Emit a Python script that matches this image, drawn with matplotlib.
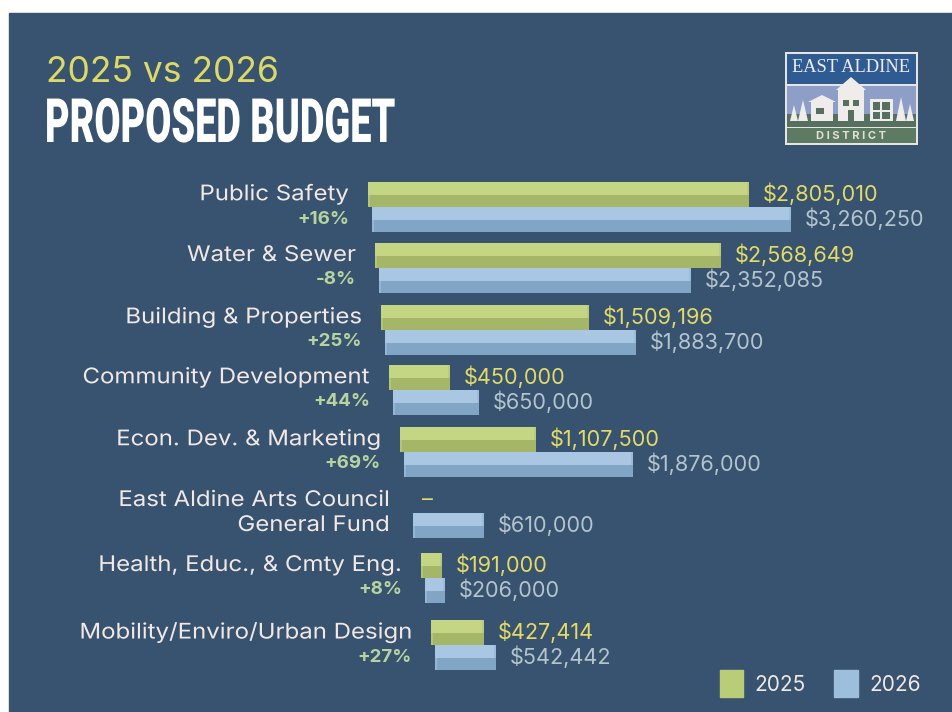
import matplotlib
matplotlib.use("Agg")
import matplotlib.pyplot as plt
from matplotlib.patches import Rectangle, Polygon
from matplotlib.patheffects import AbstractPathEffect
from matplotlib.transforms import Affine2D

plt.rcParams['font.family'] = ['Inter', 'DejaVu Sans']

# datos
categories = ["Public Safety", "Water & Sewer", "Building & Properties", "Community Development",
              "Econ. Dev. & Marketing", "East Aldine Arts Council\nGeneral Fund",
              "Health, Educ., & Cmty Eng.", "Mobility/Enviro/Urban Design"]
pct_change = ["+16%", "-8%", "+25%", "+44%", "+69%", "", "+8%", "+27%"]
labels_2025 = ["$2,805,010", "$2,568,649", "$1,509,196", "$450,000", "$1,107,500", "–", "$191,000", "$427,414"]
labels_2026 = ["$3,260,250", "$2,352,085", "$1,883,700", "$650,000", "$1,876,000", "$610,000", "$206,000", "$542,442"]

# bar lengths, they are not quite to scale with the printed amounts
bars_2025 = [2930000, 2660000, 1600000, 470000, 1046000, 0, 162000, 408000]
bars_2026 = [3223000, 2400000, 1931000, 662000, 1761000, 546000, 154000, 469000]

DOLLARS_PER_PX = 7692
bar_left = [368, 375, 381, 389, 400, 409, 421, 431]
row_top = [182, 243, 305, 365, 427, 488, 553, 620]
BAR_H = 25

GREEN_TOP, GREEN_BOT = "#c4d583", "#a5b668"
BLUE_TOP, BLUE_BOT = "#a9c6e3", "#80a5c5"
BG = "#38536f"
YELLOW = "#e3da68"
GREY = "#b4c4cc"
TEXT = "#f2e8e6"
PCT = "#b7d3a0"
LOGO_WHITE = "#f0ecec"
LOGO_GREEN = "#55705f"


class StretchX(AbstractPathEffect):
    # widens or narrows a text around a pixel x, the font list has no wide/condensed cut
    def __init__(self, factor, anchor_px):
        super().__init__()
        self.factor = factor
        self.anchor_px = anchor_px

    def draw_path(self, renderer, gc, tpath, affine, rgbFace=None):
        extra = Affine2D().translate(-self.anchor_px, 0).scale(self.factor, 1).translate(self.anchor_px, 0)
        renderer.draw_path(gc, tpath, affine + extra, rgbFace)


fig = plt.figure(figsize=(9.52, 7.12), dpi=100, facecolor="white")
ax = fig.add_axes([0, 0, 1, 1])
ax.set_xlim(0, 952)
ax.set_ylim(712, 0)
ax.axis("off")

# the bars get their own axis in dollars, same pixels as ax
bar_ax = fig.add_axes([0, 0, 1, 1], sharey=ax)
bar_ax.set_xlim(0, 952 * DOLLARS_PER_PX)
bar_ax.patch.set_alpha(0)
bar_ax.axis("off")

ax.add_patch(Rectangle((9, 13), 943, 699, color=BG, zorder=0))


def draw_bar(left_px, top, value, c_top, c_bot):
    left = left_px * DOLLARS_PER_PX
    h = BAR_H / 2
    bar_ax.barh(top + h * 1.5, value, height=h, left=left, color=c_bot, zorder=3)
    bar_ax.barh(top + h * 0.5, value, height=h, left=left, color=c_top, zorder=3)
    # bevelled ends
    cap = 2 * DOLLARS_PER_PX
    bar_ax.barh(top + h, cap, height=BAR_H, left=left, color=c_top, alpha=0.5, zorder=4)
    bar_ax.barh(top + h, cap, height=BAR_H, left=left + value - cap, color=c_bot, alpha=0.3, zorder=4)


for i, cat in enumerate(categories):
    top = row_top[i]
    left = bar_left[i]
    if bars_2025[i] > 0:
        draw_bar(left, top, bars_2025[i], GREEN_TOP, GREEN_BOT)
        x_25 = left + bars_2025[i] / DOLLARS_PER_PX + 14
    else:
        x_25 = left + 13
    draw_bar(left + 4, top + BAR_H, bars_2026[i], BLUE_TOP, BLUE_BOT)
    x_26 = left + 4 + bars_2026[i] / DOLLARS_PER_PX + 14

    ax.text(x_25, top + 12, labels_2025[i], color=YELLOW, fontsize=15.6, va="center", ha="left", zorder=5)
    ax.text(x_26, top + 37, labels_2026[i], color=GREY, fontsize=15.6, va="center", ha="left", zorder=5)

    right = left - 19
    wide = [StretchX(1.115, right)]
    if "\n" in cat:
        first, second = cat.split("\n")
        ax.text(right, top + 12, first, color=TEXT, fontsize=15.5, va="center", ha="right", path_effects=wide)
        ax.text(right, top + 37, second, color=TEXT, fontsize=15.5, va="center", ha="right", path_effects=wide)
    else:
        ax.text(right, top + 12, cat, color=TEXT, fontsize=15.5, va="center", ha="right", path_effects=wide)
        ax.text(right, top + 37, pct_change[i], color=PCT, fontsize=13.5, fontweight="bold", va="center", ha="right")

# title
ax.text(46, 73, "2025 vs 2026", color="#dcd968", fontsize=25.5, va="center", ha="left")
ax.text(45, 125, "PROPOSED BUDGET", color="white", fontsize=44, fontweight="black",
        family="Roboto", va="center", ha="left", path_effects=[StretchX(0.62, 45)])

# legend
ax.add_patch(Rectangle((720, 670), 23, 27, color="#b9cd78", zorder=3))
ax.text(754, 685, "2025", color=TEXT, fontsize=15, va="center", ha="left")
ax.add_patch(Rectangle((834, 670), 24, 27, color="#9dbedd", zorder=3))
ax.text(869, 685, "2026", color=TEXT, fontsize=15, va="center", ha="left")

# logo
ax.add_patch(Rectangle((785, 52), 133, 93, facecolor="#e8e4e4", edgecolor="none", zorder=2))
ax.add_patch(Rectangle((787, 54), 129, 30, facecolor="#2f5b93", zorder=3))
ax.add_patch(Rectangle((787, 86), 129, 28, facecolor="#8d9fc6", zorder=3))
ax.add_patch(Rectangle((787, 114), 129, 13, facecolor=LOGO_GREEN, zorder=3))
ax.add_patch(Rectangle((787, 128), 129, 15, facecolor="#5d7a63", zorder=3))
ax.text(851.5, 67, "EAST ALDINE", color=LOGO_WHITE, fontsize=13.2, family="Liberation Serif", va="center", ha="center", zorder=4)
ax.text(851.5, 136, "D I S T R I C T", color="#e0e0d8", fontsize=8, fontweight="bold", va="center", ha="center", zorder=4)

# buildings
for x, w, y0, h in [(811, 22, 102, 19), (838, 26, 89, 32), (870, 23, 99, 22)]:
    ax.add_patch(Rectangle((x, y0), w, h, facecolor=LOGO_WHITE, zorder=4))
ax.add_patch(Polygon([(808, 102), (822, 95), (836, 102)], facecolor=LOGO_WHITE, zorder=4))
ax.add_patch(Polygon([(836, 90), (851, 77), (866, 90)], facecolor=LOGO_WHITE, zorder=4))
for x, w, y0, h in [(816, 8, 108, 6), (843, 6, 100, 6), (853, 6, 100, 6), (848, 6, 110, 11),
                    (873, 7, 102, 8), (882, 8, 102, 8), (873, 7, 112, 7), (882, 8, 112, 7)]:
    ax.add_patch(Rectangle((x, y0), w, h, facecolor=LOGO_GREEN, zorder=5))
for x, base, half, top_y in [(794, 121, 4, 105), (803, 121, 5, 100), (901, 121, 5, 97), (910, 121, 4, 104)]:
    ax.add_patch(Polygon([(x - half, base), (x, top_y), (x + half, base)], facecolor=LOGO_WHITE, zorder=4))

plt.savefig("out.png", dpi=100, facecolor="white")
